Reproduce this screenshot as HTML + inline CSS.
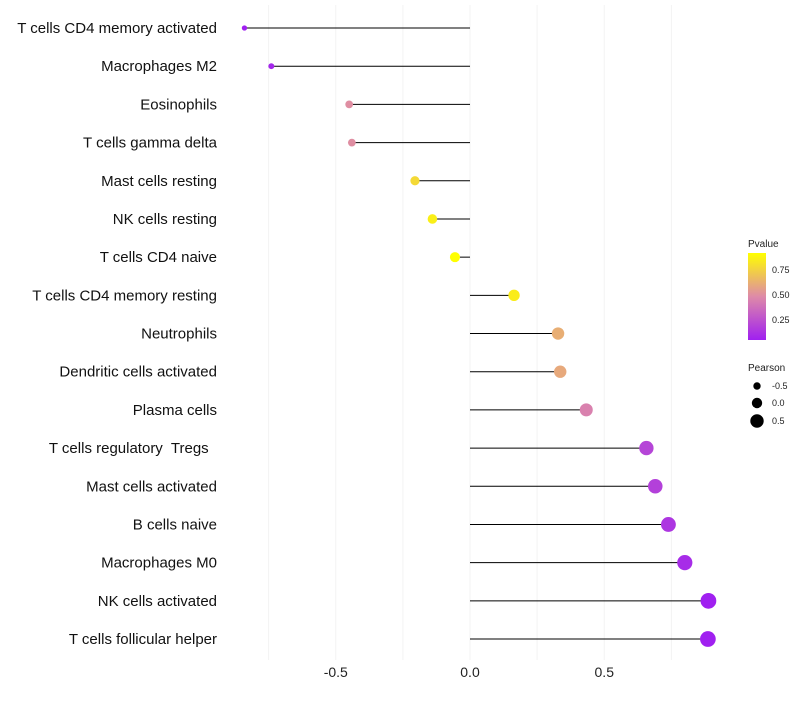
<!DOCTYPE html>
<html><head><meta charset="utf-8"><style>
body{margin:0;background:#fff;font-family:"Liberation Sans",sans-serif}
</style></head><body>
<svg id="chart" width="800" height="700" xmlns="http://www.w3.org/2000/svg">
<defs><linearGradient id="pg" x1="0" y1="1" x2="0" y2="0">
<stop offset="0" stop-color="#a020f0"/><stop offset="0.5" stop-color="#de8aa8"/><stop offset="1" stop-color="#ffff00"/>
</linearGradient></defs>
<g id="grid"></g><g id="marks"></g><g id="labels"></g>
<g font-size="9" fill="#222">
<text x="748" y="247" font-size="10">Pvalue</text>
<rect x="748" y="253" width="18" height="87" fill="url(#pg)"/>
<text x="772" y="273">0.75</text><text x="772" y="298">0.50</text><text x="772" y="323">0.25</text>
</g>
<g font-size="9" fill="#222">
<text x="748" y="371" font-size="10">Pearson</text>
<circle cx="757" cy="386" r="3.7" fill="#000"/><text x="772" y="389">-0.5</text>
<circle cx="757" cy="403" r="5.2" fill="#000"/><text x="772" y="406">0.0</text>
<circle cx="757" cy="421" r="6.7" fill="#000"/><text x="772" y="424">0.5</text>
</g>
</svg>
<script>
const categories=["T cells CD4 memory activated","Macrophages M2","Eosinophils","T cells gamma delta","Mast cells resting","NK cells resting","T cells CD4 naive","T cells CD4 memory resting","Neutrophils","Dendritic cells activated","Plasma cells","T cells regulatory  Tregs","Mast cells activated","B cells naive","Macrophages M0","NK cells activated","T cells follicular helper"];
const pearson=[-0.84,-0.74,-0.45,-0.44,-0.205,-0.14,-0.056,0.164,0.328,0.336,0.433,0.657,0.69,0.739,0.8,0.888,0.886];
const pvalue=[0.03,0.08,0.5,0.5,0.78,0.86,0.95,0.85,0.62,0.6,0.45,0.2,0.18,0.14,0.1,0.03,0.03];
const xticks=[-0.5,0,0.5];
const xgrid=[-0.75,-0.5,-0.25,0,0.25,0.5,0.75];
const ns="http://www.w3.org/2000/svg";
const x=v=>470+v*268.5;
const y=i=>28+i*38.19;
function mk(t,a,p){const e=document.createElementNS(ns,t);for(const k in a)e.setAttribute(k,a[k]);p.appendChild(e);return e;}
function hex(h){return [1,3,5].map(i=>parseInt(h.substr(i,2),16));}
function col(p){const t=Math.max(0,Math.min(1,(p-0.05)/0.87));const A=hex("#a020f0"),M=hex("#de8aa8"),Y=hex("#ffff00");
let a,b,f;if(t<0.5){a=A;b=M;f=t/0.5}else{a=M;b=Y;f=(t-0.5)/0.5}
return "rgb("+a.map((v,i)=>Math.round(v+(b[i]-v)*f)).join(",")+")";}
const G=document.getElementById("grid"),M=document.getElementById("marks"),L=document.getElementById("labels");
xgrid.forEach(v=>{const l=mk("line",{x1:x(v),x2:x(v),y1:5,y2:660,stroke:"#f3f3f3","stroke-width":1},G);

});
xticks.forEach(v=>{const t=mk("text",{x:x(v),y:677,"text-anchor":"middle","font-size":14,fill:"#222"},L);t.textContent=v===0?"0.0":String(v);

});
categories.forEach((c,i)=>{
const t=mk("text",{x:217,y:y(i)+5,"text-anchor":"end","font-size":15,fill:"#111",style:"white-space:pre"},L);t.textContent=c+(c.indexOf("  ")>=0?"  ":"");


const s=mk("line",{x1:x(0),x2:x(pearson[i]),y1:y(i),y2:y(i),stroke:"#000","stroke-width":1},M);


const r=Math.max(1.5,5.2+3*pearson[i]);
const d=mk("circle",{cx:x(pearson[i]),cy:y(i),r:r,fill:col(pvalue[i])},M);


});
</script>
</body></html>
